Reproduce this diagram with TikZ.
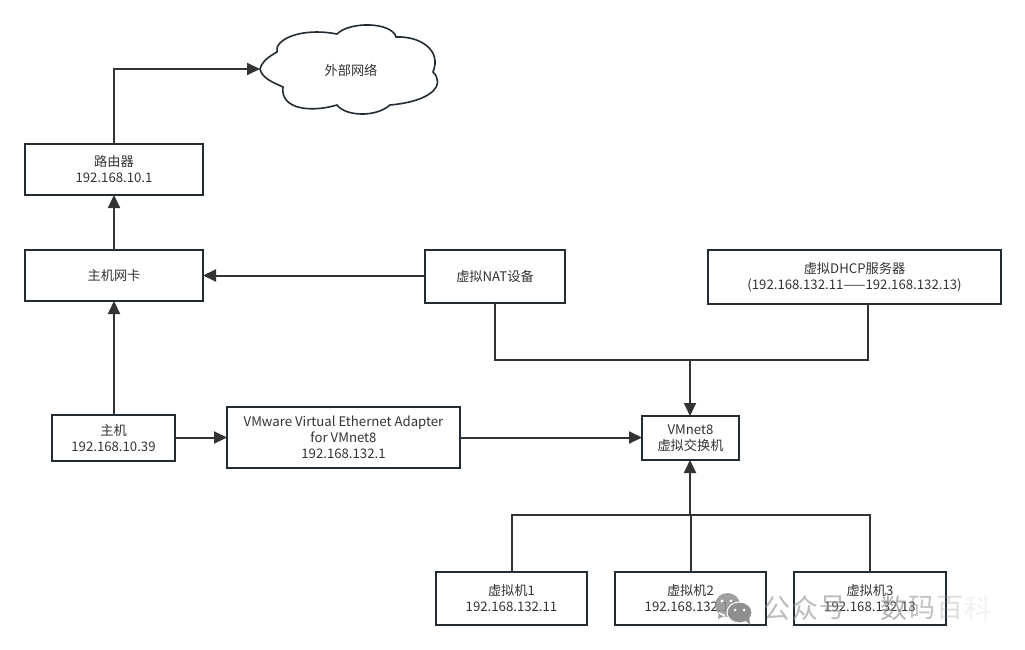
\documentclass[tikz,border=0pt]{standalone}
\usepackage{fontspec}
\setmainfont{Noto Sans CJK SC}
\usetikzlibrary{arrows.meta,calc}
\definecolor{edgeink}{HTML}{333333}
\definecolor{boxink}{HTML}{232B33}
\definecolor{wmgrey}{HTML}{8F8F8F}
\tikzset{
  x=1pt,y=-1pt,
  box/.style={draw=boxink,line width=2pt,fill=white,align=center,inner sep=0pt,outer sep=0pt,
    text=edgeink,font=\fontsize{13.2}{16}\selectfont},
  link/.style={draw=edgeink,line width=2pt},
  arrowlink/.style={link,-{Triangle[length=13pt,width=12pt]}},
  wm/.style={inner sep=0pt,font=\fontsize{27}{27}\selectfont,text=wmgrey},
}
\newcommand{\boxat}[6]{\node[box,minimum width=#4 pt-#2 pt,minimum height=#5 pt-#3 pt] (#1) at ({(#2+#4)/2},{(#3+#5)/2}) {#6};}
\begin{document}
\begin{tikzpicture}
\useasboundingbox[fill=white] (0,0) rectangle (1025,650);

% cloud
\draw[draw=boxink,line width=1.6pt,fill=white]
  (260,69) .. controls (262,61) and (270,56) .. (277,52)
  .. controls (274,40) and (300,27) .. (337,34)
  .. controls (350,21) and (392,22) .. (396,37)
  .. controls (420,36) and (442,50) .. (433,72)
  .. controls (445,84) and (434,101) .. (390,105)
  .. controls (375,118) and (345,116) .. (337,105)
  .. controls (310,113) and (280,109) .. (283,87)
  .. controls (272,82) and (262,78) .. (260,69) -- cycle;
\node[inner sep=0pt,text=edgeink,font=\fontsize{13.2}{16}\selectfont] (cloud) at (351,70) {外部网络};
\coordinate (cloudw) at (260,69);

\boxat{router}{25}{144}{203}{195}{路由器\\192.168.10.1}
\boxat{nic}{25}{250}{203}{301}{主机网卡}
\boxat{nat}{425}{250}{565}{303}{虚拟NAT设备}
\boxat{dhcp}{708}{250}{1001}{304}{虚拟DHCP服务器\\(192.168.132.11——192.168.132.13)}
\boxat{host}{52}{415}{175}{461}{主机\\192.168.10.39}
\boxat{adapter}{227}{407}{460}{468}{VMware Virtual Ethernet Adapter\\for VMnet8\\192.168.132.1}
\boxat{vmnet}{642}{416}{739}{460}{VMnet8\\虚拟交换机}
\boxat{vma}{436}{572}{587}{625}{虚拟机1\\192.168.132.11}
\boxat{vmb}{615}{572}{766}{625}{虚拟机2\\192.168.132.12}
\boxat{vmc}{794}{572}{946}{625}{虚拟机3\\192.168.132.13}

\coordinate (busA) at (690,360);
\coordinate (busB) at (690,515);

\draw[arrowlink] (router.north) |- (cloudw);
\draw[arrowlink] (nic.north) -- (router.south);
\draw[arrowlink] (nat.west |- nic.east) -- (nic.east);
\draw[arrowlink] (host.north -| nic.north) -- (nic.south);
\draw[arrowlink] (host.east |- adapter.west) -- (adapter.west);
\draw[arrowlink] (adapter.east) -- (adapter.east -| vmnet.west);
\draw[link] (nat.south) |- (busA);
\draw[link] ([xshift=13.5pt]dhcp.south) |- (busA);
\draw[arrowlink] (busA) -- (busA |- vmnet.north);
\draw[link] (vma.north) |- (busB);
\draw[link] (vmc.north) |- (busB);
\draw[link] (vmb.north) -- (vmb.north |- busB);
\draw[arrowlink] (busB) -- (busB |- vmnet.south);

% watermark
\fill[wmgrey,opacity=.85] (727.5,605) ellipse (12.5 and 12) (719,612) -- (718,619) -- (726,615) -- cycle;
\fill[wmgrey,draw=white,line width=1pt] (739.5,612.5) ellipse (12.5 and 10.5);
\fill[wmgrey] (745,620) -- (750,625) -- (749,616) -- cycle;
\fill[white] (722,601) circle (1.6) (731,601) circle (1.6) (735,610) circle (1.5) (744,610) circle (1.5);
\node[wm,opacity=.6] (wma) at (777,608) {公};
\node[wm,opacity=.6] (wmb) at (805,608) {众};
\node[wm,opacity=.6] (wmc) at (833,608) {号};
\node[wm,opacity=.7] (wmd) at (894,608) {数};
\node[wm,opacity=.55] (wme) at (922,608) {码};
\node[wm,opacity=.3] (wmf) at (950,608) {百};
\node[wm,opacity=.12] (wmg) at (978,608) {科};
\end{tikzpicture}
\end{document}
